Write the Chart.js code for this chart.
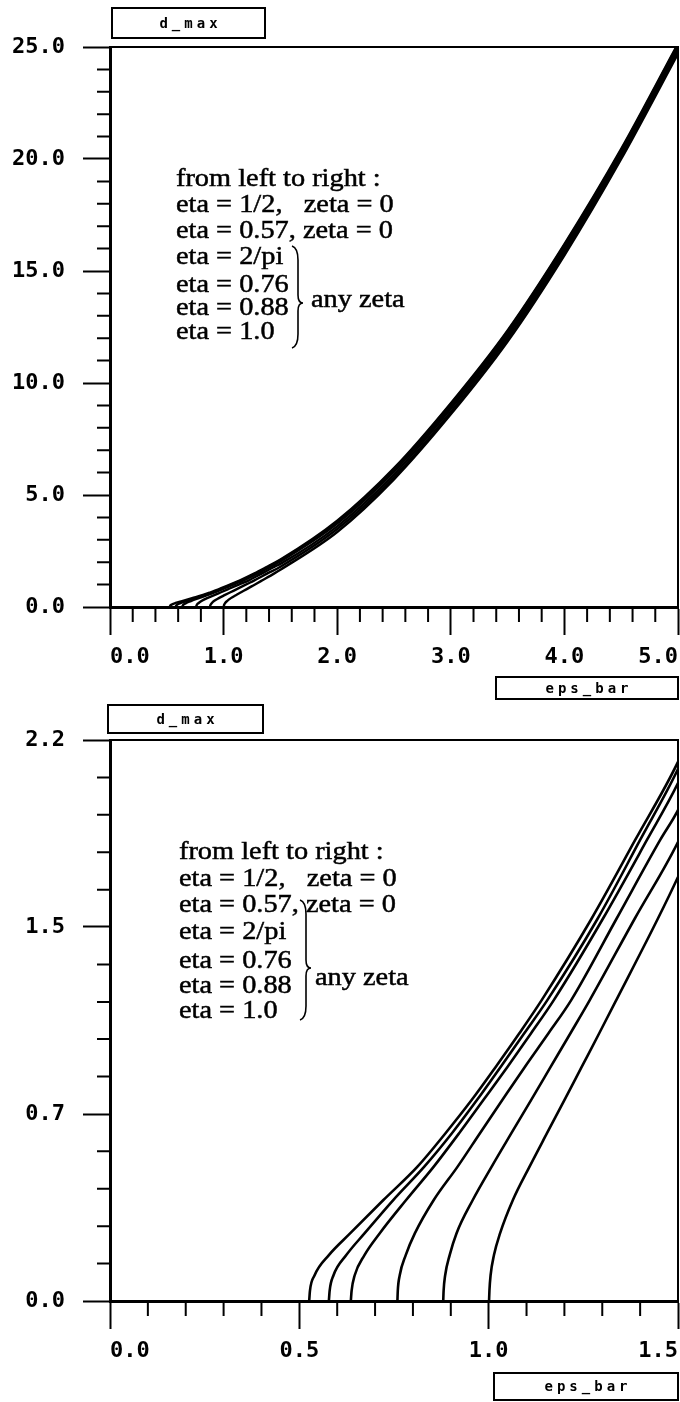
<!DOCTYPE html>
<html>
<head>
<meta charset="utf-8">
<script src="https://cdn.jsdelivr.net/npm/chart.js@4.4.1/dist/chart.umd.min.js"></script>
<style>
  html, body { margin: 0; padding: 0; background: #fff; }
  body { width: 680px; height: 1402px; position: relative; overflow: hidden; }
  canvas { position: absolute; left: 0; }
  #chartTop { top: 0; }
  #chartBottom { top: 700px; }
</style>
</head>
<body>
<canvas id="chartTop" width="680" height="704"></canvas>
<canvas id="chartBottom" width="680" height="702"></canvas>
<script>
// d_max against eps_bar, one curve per eta
const eps1 = [0.526, 0.528, 0.540, 0.578, 0.634, 0.722, 0.812, 0.886, 0.955, 1.019, 1.081, 1.140, 1.272, 1.387, 1.5, 2.0, 2.5, 3.0, 3.5, 4.0, 4.5, 5.0];
const dmax1 = [0, 0.04, 0.10, 0.18, 0.265, 0.396, 0.527, 0.658, 0.788, 0.919, 1.05, 1.18, 1.5, 1.808, 2.114, 3.85, 6.2, 9.1, 12.35, 16.2, 20.45, 25.15];

const eps2 = [0.578, 0.580, 0.590, 0.624, 0.672, 0.748, 0.830, 0.903, 0.969, 1.032, 1.094, 1.155, 1.288, 1.400, 1.5, 2.0, 2.5, 3.0, 3.5, 4.0, 4.5, 5.0];
const dmax2 = [0, 0.04, 0.10, 0.18, 0.265, 0.396, 0.527, 0.658, 0.788, 0.919, 1.05, 1.18, 1.5, 1.808, 2.086, 3.80, 6.15, 9.05, 12.3, 16.15, 20.4, 25.1];

const eps3 = [0.636, 0.638, 0.646, 0.672, 0.712, 0.782, 0.855, 0.922, 0.986, 1.050, 1.112, 1.172, 1.302, 1.418, 1.5, 2.0, 2.5, 3.0, 3.5, 4.0, 4.5, 5.0];
const dmax3 = [0, 0.04, 0.10, 0.18, 0.265, 0.396, 0.527, 0.658, 0.788, 0.919, 1.05, 1.18, 1.5, 1.808, 2.031, 3.72, 6.05, 8.95, 12.2, 16.05, 20.3, 25.0];

const eps4 = [0.759, 0.760, 0.765, 0.781, 0.805, 0.855, 0.918, 0.977, 1.036, 1.096, 1.158, 1.218, 1.338, 1.453, 1.5, 2.0, 2.5, 3.0, 3.5, 4.0, 4.5, 5.0];
const dmax4 = [0, 0.04, 0.10, 0.18, 0.265, 0.396, 0.527, 0.658, 0.788, 0.919, 1.05, 1.18, 1.5, 1.808, 1.925, 3.60, 5.92, 8.85, 12.1, 15.95, 20.2, 24.9];

const eps5 = [0.880, 0.881, 0.885, 0.897, 0.915, 0.958, 1.008, 1.060, 1.112, 1.164, 1.216, 1.267, 1.386, 1.5, 2.0, 2.5, 3.0, 3.5, 4.0, 4.5, 5.0];
const dmax5 = [0, 0.04, 0.10, 0.18, 0.265, 0.396, 0.527, 0.658, 0.788, 0.919, 1.05, 1.18, 1.5, 1.80, 3.48, 5.8, 8.72, 11.98, 15.82, 20.1, 24.8];

const eps6 = [1.001, 1.002, 1.005, 1.014, 1.030, 1.064, 1.108, 1.154, 1.200, 1.246, 1.292, 1.337, 1.447, 1.5, 2.0, 2.5, 3.0, 3.5, 4.0, 4.5, 5.0];
const dmax6 = [0, 0.04, 0.10, 0.18, 0.265, 0.396, 0.527, 0.658, 0.788, 0.919, 1.05, 1.18, 1.5, 1.663, 3.35, 5.7, 8.6, 11.85, 15.7, 20.0, 24.7];

const curves = [[eps1, dmax1], [eps2, dmax2], [eps3, dmax3], [eps4, dmax4], [eps5, dmax5], [eps6, dmax6]];

// axis ticks
const topXTicks = [0, 1, 2, 3, 4, 5];
const topXLabels = ["0.0", "1.0", "2.0", "3.0", "4.0", "5.0"];
const topXMinor = [0.2, 0.4, 0.6, 0.8, 1.2, 1.4, 1.6, 1.8, 2.2, 2.4, 2.6, 2.8, 3.2, 3.4, 3.6, 3.8, 4.2, 4.4, 4.6, 4.8];
const topYTicks = [0, 5, 10, 15, 20, 25];
const topYLabels = ["0.0", "5.0", "10.0", "15.0", "20.0", "25.0"];
const topYMinor = [1, 2, 3, 4, 6, 7, 8, 9, 11, 12, 13, 14, 16, 17, 18, 19, 21, 22, 23, 24];

const bottomXTicks = [0, 0.5, 1.0, 1.5];
const bottomXLabels = ["0.0", "0.5", "1.0", "1.5"];
const bottomXMinor = [0.1, 0.2, 0.3, 0.4, 0.6, 0.7, 0.8, 0.9, 1.1, 1.2, 1.3, 1.4];
const bottomYTicks = [0, 0.733, 1.467, 2.2];
const bottomYLabels = ["0.0", "0.7", "1.5", "2.2"];
const bottomYMinor = [0.147, 0.293, 0.44, 0.587, 0.88, 1.027, 1.173, 1.32, 1.613, 1.76, 1.907, 2.053];

const noteLines = ["from left to right :", "eta = 1/2,   zeta = 0", "eta = 0.57, zeta = 0", "eta = 2/pi", "eta = 0.76", "eta = 0.88", "eta = 1.0"];
const braceNote = "any zeta";
const yTitle = "d_max";
const xTitle = "eps_bar";

const tickFont = { family: "DejaVu Sans Mono", size: 22, weight: "bold" };

function labelBox(ctx, text, x, y, w, h) {
  ctx.lineWidth = 2;
  ctx.strokeRect(x, y, w, h);
  ctx.font = "bold 14px 'DejaVu Sans Mono'";
  ctx.letterSpacing = "4px";
  ctx.textAlign = "center";
  ctx.textBaseline = "middle";
  ctx.fillText(text, x + w / 2 + 2, y + h / 2 + 1);
  ctx.letterSpacing = "0px";
}

function serifText(ctx, text, x, y) {
  ctx.save();
  ctx.translate(x, y);
  ctx.scale(1.09, 1);
  ctx.fillText(text, 0, 0);
  ctx.lineWidth = 0.5;
  ctx.strokeText(text, 0, 0);
  ctx.restore();
}

const framePlugin = {
  id: "frame",
  afterDraw(chart, args, o) {
    const { ctx, chartArea: a, scales: { x, y } } = chart;
    ctx.save();
    ctx.strokeStyle = "#000";
    ctx.fillStyle = "#000";

    // top and right edges of the box
    ctx.lineWidth = 2;
    ctx.beginPath();
    ctx.moveTo(a.left, a.top);
    ctx.lineTo(a.right, a.top);
    ctx.lineTo(a.right, a.bottom);
    ctx.stroke();

    // minor ticks, outside the box
    ctx.beginPath();
    o.xMinor.forEach((v) => {
      const px = x.getPixelForValue(v);
      ctx.moveTo(px, a.bottom);
      ctx.lineTo(px, a.bottom + 15);
    });
    o.yMinor.forEach((v) => {
      const py = y.getPixelForValue(v);
      ctx.moveTo(a.left, py);
      ctx.lineTo(a.left - 13, py);
    });
    ctx.stroke();

    // axis name boxes
    labelBox(ctx, yTitle, o.yBox[0], o.yBox[1], o.yBox[2], o.yBox[3]);
    labelBox(ctx, xTitle, o.xBox[0], o.xBox[1], o.xBox[2], o.xBox[3]);

    // annotation
    ctx.font = "26px 'Liberation Serif'";
    ctx.textAlign = "left";
    ctx.textBaseline = "alphabetic";
    noteLines.forEach((line, i) => serifText(ctx, line, o.noteX, o.noteY[i]));
    serifText(ctx, braceNote, o.braceText[0], o.braceText[1]);

    // the brace
    const [bx, top, mid, bot] = o.brace;
    ctx.lineWidth = 1.6;
    ctx.beginPath();
    ctx.moveTo(bx - 2, top);
    ctx.quadraticCurveTo(bx + 4, top + 2, bx + 4, top + 14);
    ctx.lineTo(bx + 4, mid - 8);
    ctx.quadraticCurveTo(bx + 4, mid, bx + 9, mid);
    ctx.quadraticCurveTo(bx + 4, mid, bx + 4, mid + 8);
    ctx.lineTo(bx + 4, bot - 14);
    ctx.quadraticCurveTo(bx + 4, bot - 2, bx - 2, bot);
    ctx.stroke();
    ctx.restore();
  }
};

function makeChart(id, cfg) {
  const datasets = curves.map(([xs, ys]) => ({
    data: xs.map((v, i) => ({ x: v, y: ys[i] })),
    showLine: true,
    borderColor: "#000",
    borderWidth: cfg.lineWidth,
    pointRadius: 0,
    cubicInterpolationMode: "monotone",
    fill: false
  }));

  return new Chart(document.getElementById(id), {
    type: "scatter",
    data: { datasets },
    options: {
      responsive: false,
      animation: false,
      events: [],
      layout: { padding: { top: cfg.top, right: 2, left: 0, bottom: 0 } },
      plugins: {
        legend: { display: false },
        tooltip: { enabled: false },
        frame: cfg.frame
      },
      scales: {
        x: {
          type: "linear",
          min: 0,
          max: cfg.xMax,
          afterBuildTicks: (s) => { s.ticks = cfg.xTicks.map((v) => ({ value: v })); },
          afterFit: (s) => { s.height = cfg.xHeight; s.paddingLeft = 0; s.paddingRight = 0; },
          ticks: {
            callback: (v, i) => cfg.xLabels[i],
            align: "inner",
            autoSkip: false,
            maxRotation: 0,
            padding: 9,
            color: "#000",
            font: tickFont
          },
          grid: { drawOnChartArea: false, drawTicks: true, tickLength: 28, tickWidth: 2, tickColor: "#000", color: "#000" },
          border: { display: true, color: "#000", width: 3 }
        },
        y: {
          type: "linear",
          min: 0,
          max: cfg.yMax,
          afterBuildTicks: (s) => { s.ticks = cfg.yTicks.map((v) => ({ value: v })); },
          afterFit: (s) => { s.width = 110; },
          ticks: {
            callback: (v, i) => cfg.yLabels[i],
            autoSkip: false,
            padding: 18,
            color: "#000",
            font: tickFont
          },
          grid: { drawOnChartArea: false, drawTicks: true, tickLength: 27, tickWidth: 2, tickColor: "#000", color: "#000" },
          border: { display: true, color: "#000", width: 3 }
        }
      }
    },
    plugins: [framePlugin]
  });
}

makeChart("chartTop", {
  top: 47, xHeight: 97, xMax: 5, yMax: 25, lineWidth: 2.4,
  xTicks: topXTicks, xLabels: topXLabels, yTicks: topYTicks, yLabels: topYLabels,
  frame: {
    xMinor: topXMinor, yMinor: topYMinor,
    yBox: [112, 8, 153, 30], xBox: [496, 677, 182, 22],
    noteX: 176, noteY: [186, 212, 238, 264, 292, 315, 339],
    braceText: [311, 307], brace: [294, 246, 303, 348]
  }
});

makeChart("chartBottom", {
  top: 40, xHeight: 101, xMax: 1.5, yMax: 2.2, lineWidth: 2.6,
  xTicks: bottomXTicks, xLabels: bottomXLabels, yTicks: bottomYTicks, yLabels: bottomYLabels,
  frame: {
    xMinor: bottomXMinor, yMinor: bottomYMinor,
    yBox: [108, 5, 155, 28], xBox: [494, 673, 184, 27],
    noteX: 179, noteY: [159, 186, 212, 239, 268, 293, 318],
    braceText: [315, 285], brace: [302, 200, 268, 320]
  }
});
</script>
</body>
</html>
